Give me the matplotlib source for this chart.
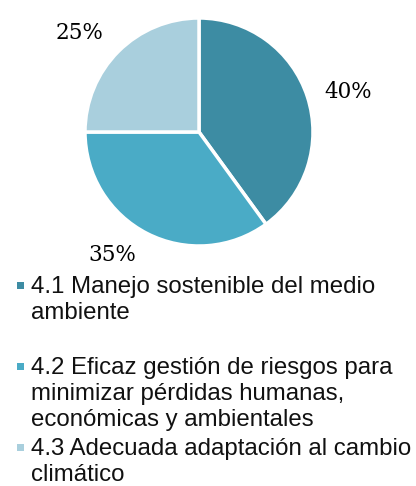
import matplotlib
matplotlib.use("Agg")
import matplotlib.pyplot as plt
from matplotlib.patches import Rectangle

# data
labels = [
    "4.1 Manejo sostenible del medio\nambiente",
    "4.2 Eficaz gestión de riesgos para\nminimizar pérdidas humanas,\neconómicas y ambientales",
    "4.3 Adecuada adaptación al cambio\nclimático",
]
shares = [40, 35, 25]
colors = ["#3D8CA3", "#4AABC6", "#A9CFDD"]

W, H = 416, 486
fig = plt.figure(figsize=(W / 100, H / 100), dpi=100)

# pie axes: center (199, 132) px, radius 114 px
cx, cy, r = 199, 132, 114
ax = fig.add_axes([(cx - r) / W, (H - cy - r) / H, 2 * r / W, 2 * r / H])
wedges, _ = ax.pie(shares, colors=colors, startangle=90, counterclock=False,
                   wedgeprops=dict(edgecolor="white", linewidth=2.5))
ax.set_xlim(-1, 1)
ax.set_ylim(-1, 1)
ax.axis("off")
ax.set_aspect("auto")

# percentage labels (positions in pie-radius units, tuned to the reference)
label_xy = [(1.31, 0.35), (-0.76, -1.08), (-1.05, 0.87)]
for s, (lx, ly) in zip(shares, label_xy):
    ax.text(lx, ly, f"{s}%", ha="center", va="center",
            fontsize=15.5, family="DejaVu Serif", color="#000000", clip_on=False)

# legend drawn by hand (irregular spacing as in reference)
marker_y = [285, 366, 447]  # marker centres in px
for lab, col, yc in zip(labels, colors, marker_y):
    fig.add_artist(Rectangle((17 / W, 1 - (yc + 3.5) / H), 7 / W, 7 / H,
                             transform=fig.transFigure, facecolor=col,
                             edgecolor="none"))
    fig.text(31 / W, 1 - (yc - 9) / H, lab, ha="left", va="top",
             fontsize=17.3, family="Liberation Sans", color="#111111",
             linespacing=1.24)

fig.savefig("out.png", dpi=100)
